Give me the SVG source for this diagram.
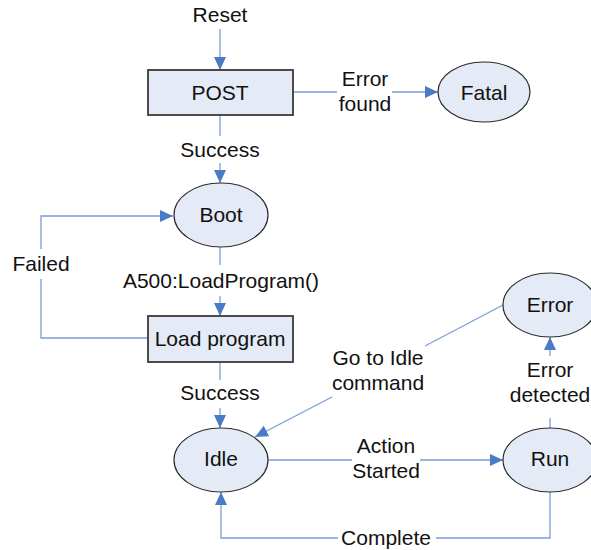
<svg xmlns="http://www.w3.org/2000/svg" width="591" height="550" viewBox="0 0 591 550">
<style>
.node{fill:#E4EAF6;stroke:#2b2b2b;stroke-width:1.2}
.box{fill:#E4EAF6;stroke:#3a3a3a;stroke-width:1.8}
.t{font-family:"Liberation Sans",Arial,sans-serif;font-size:21px;fill:#111;text-anchor:middle}
.c{fill:none;stroke:#7A9FD6;stroke-width:1.3}
.a{stroke:#7A9FD6;stroke-width:1.3;fill:none;marker-end:url(#ah)}
</style>
<defs>
<marker id="ah" markerUnits="userSpaceOnUse" markerWidth="14" markerHeight="12" refX="13" refY="6" orient="auto">
<path d="M0,0 L13,6 L0,12 z" fill="#4A7CC6"/>
</marker>
</defs>
<g id="connectors">
<line class="a" x1="220" y1="29" x2="220" y2="70"/>
<line class="c" x1="293" y1="92" x2="337" y2="92"/>
<line class="a" x1="392" y1="92" x2="438" y2="92"/>
<line class="c" x1="220" y1="115" x2="220" y2="136"/>
<line class="a" x1="220" y1="163" x2="220" y2="183"/>
<line class="c" x1="220" y1="247" x2="220" y2="265"/>
<line class="a" x1="220" y1="296" x2="220" y2="316"/>
<polyline class="c" points="148,338 41,338 41,279"/>
<polyline class="a" points="41,249 41,216 173,216"/>
<line class="c" x1="220" y1="362" x2="220" y2="380"/>
<line class="a" x1="220" y1="408" x2="220" y2="428"/>
<line class="c" x1="268" y1="460" x2="352" y2="460"/>
<line class="a" x1="420" y1="460" x2="503" y2="460"/>
<line class="c" x1="550" y1="428" x2="550" y2="418"/>
<line class="a" x1="550" y1="356" x2="550" y2="337"/>
<line class="c" x1="503" y1="305" x2="425" y2="346"/>
<line class="a" x1="332" y1="397" x2="255" y2="437"/>
<polyline class="c" points="550,492 550,538 436,538"/>
<polyline class="a" points="338,538 221,538 221,492"/>
</g>
<g id="reset"><text class="t" x="220" y="22">Reset</text></g>
<g id="post"><rect class="box" x="148" y="70" width="145" height="45"/><text class="t" x="220" y="99.5">POST</text></g>
<g id="fatal"><ellipse class="node" cx="484" cy="92" rx="46" ry="30"/><text class="t" x="484" y="99.5">Fatal</text></g>
<g id="boot"><ellipse class="node" cx="221" cy="215" rx="47" ry="32"/><text class="t" x="221" y="222">Boot</text></g>
<g id="loadprogram"><rect class="box" x="148" y="316" width="145" height="46"/><text class="t" x="220" y="345.5">Load program</text></g>
<g id="idle"><ellipse class="node" cx="221" cy="460" rx="47" ry="32"/><text class="t" x="221" y="466">Idle</text></g>
<g id="run"><ellipse class="node" cx="550" cy="460" rx="47" ry="32"/><text class="t" x="550" y="466">Run</text></g>
<g id="error"><ellipse class="node" cx="550" cy="305" rx="47" ry="32"/><text class="t" x="550" y="312">Error</text></g>
<g id="labels">
<text class="t" x="365" y="86">Error</text>
<text class="t" x="365" y="111">found</text>
<text class="t" x="220" y="157">Success</text>
<text class="t" x="221" y="288">A500:LoadProgram()</text>
<text class="t" x="41" y="271">Failed</text>
<text class="t" x="220" y="400">Success</text>
<text class="t" x="378" y="365">Go to Idle</text>
<text class="t" x="378" y="390">command</text>
<text class="t" x="550" y="377">Error</text>
<text class="t" x="550" y="402">detected</text>
<text class="t" x="386" y="453">Action</text>
<text class="t" x="386" y="478">Started</text>
<text class="t" x="386" y="545">Complete</text>
</g>
</svg>
